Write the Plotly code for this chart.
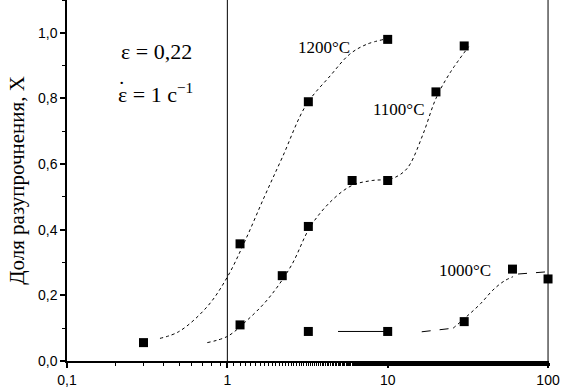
import plotly.graph_objects as go

# measured points
x1200 = [0.3, 1.2, 3.2, 10]
y1200 = [0.056, 0.357, 0.79, 0.98]
x1100 = [1.2, 2.2, 3.2, 6, 10, 20, 30]
y1100 = [0.11, 0.26, 0.41, 0.55, 0.55, 0.82, 0.96]
x1000 = [3.2, 10, 30, 60, 100]
y1000 = [0.09, 0.09, 0.12, 0.28, 0.25]

# fitted curves
c1200_x = [0.38, 0.5, 0.75, 1.0, 1.3, 1.7, 2.2, 3.1, 4.4, 5.8, 7.4, 9.5]
c1200_y = [0.069, 0.09, 0.166, 0.256, 0.37, 0.5, 0.62, 0.78, 0.87, 0.935, 0.965, 0.98]
c1100_x = [0.75, 1.0, 1.3, 1.8, 2.5, 3.3, 4.5, 6.0, 8.0, 10.5, 12.5, 13.8, 16.7, 20.0, 24.4, 32.0]
c1100_y = [0.056, 0.075, 0.12, 0.19, 0.29, 0.41, 0.49, 0.535, 0.55, 0.555, 0.575, 0.6, 0.694, 0.8, 0.877, 0.958]
c1000a_x = [4.9, 10]
c1000a_y = [0.09, 0.09]
c1000b_x = [16.3, 25.6]
c1000b_y = [0.089, 0.1]
c1000c_x = [25.6, 31, 38, 45.3, 53, 60.5]
c1000c_y = [0.1, 0.135, 0.175, 0.216, 0.243, 0.257]
c1000d_x = [65, 100]
c1000d_y = [0.265, 0.272]

xtick_vals = [0.1, 1, 10, 100]
xtick_text = ["0,1", "1", "10", "100"]
ytick_vals = [0.0, 0.2, 0.4, 0.6, 0.8, 1.0]
ytick_text = ["0,0", "0,2", "0,4", "0,6", "0,8", "1,0"]

fig = go.Figure()

def curve(x, y, dash, shape="spline"):
    fig.add_trace(go.Scatter(x=x, y=y, mode="lines",
                             line=dict(color="black", width=1, dash=dash, shape=shape),
                             showlegend=False, hoverinfo="skip"))

curve(c1200_x, c1200_y, "dot")
curve(c1100_x, c1100_y, "dot")
curve(c1000a_x, c1000a_y, "solid", "linear")
curve(c1000b_x, c1000b_y, "dash", "linear")
curve(c1000c_x, c1000c_y, "dot")
curve(c1000d_x, c1000d_y, "dash", "linear")

for xs, ys in [(x1200, y1200), (x1100, y1100), (x1000, y1000)]:
    fig.add_trace(go.Scatter(x=xs, y=ys, mode="markers",
                             marker=dict(symbol="square", size=9, color="black"),
                             showlegend=False, cliponaxis=False))

for xv in [1, 100]:
    fig.add_shape(type="line", xref="x", yref="paper", x0=xv, x1=xv, y0=0, y1=1,
                  line=dict(color="black", width=1))

serif = "Liberation Serif, Times New Roman, serif"
W, H = 561, 388
L, R, T, B = 67, 12, 0, 27

fig.update_layout(
    width=W, height=H,
    margin=dict(l=L, r=R, t=T, b=B),
    paper_bgcolor="white", plot_bgcolor="white",
    font=dict(family="Liberation Sans, Arial, sans-serif", size=14, color="black"),
    xaxis=dict(type="log", range=[-1, 2.006], tickvals=xtick_vals, ticktext=xtick_text,
               showgrid=False, zeroline=False, showline=True, linecolor="black", linewidth=1.5,
               ticks="outside", ticklen=5, tickwidth=1.5, tickcolor="black",
               minor=dict(ticks="outside", ticklen=3, tickwidth=1, tickcolor="black", showgrid=False)),
    yaxis=dict(range=[0, 1.1], tickvals=ytick_vals, ticktext=ytick_text,
               showgrid=False, zeroline=False, showline=True, linecolor="black", linewidth=1.5,
               ticks="outside", ticklen=5, tickwidth=1.5, tickcolor="black",
               minor=dict(ticks="outside", ticklen=3, tickwidth=1, tickcolor="black",
                          dtick=0.1, showgrid=False),
               title=dict(text="Доля разупрочнения, X", font=dict(family=serif, size=21), standoff=8)),
)

def paper(px, py):
    return (px - L) / (W - L - R), (H - B - py) / (H - B - T)

labels = [
    (156, 52, "ε = 0,22", 22),
    (155, 93, "ε = 1 с<sup>−1</sup>", 22),
    (121, 88, "˙", 22),
    (324, 48, "1200°C", 17),
    (399, 110, "1100°C", 17),
    (465, 270, "1000°C", 17),
]
for px, py, t, s in labels:
    xp, yp = paper(px, py)
    fig.add_annotation(x=xp, y=yp, xref="paper", yref="paper", text=t, showarrow=False,
                       font=dict(family=serif, size=s, color="black"),
                       xanchor="center", yanchor="middle")

fig.write_html("out.html", config={"displayModeBar": False},
               post_script="document.body.style.margin='0';document.body.style.padding='0';")
